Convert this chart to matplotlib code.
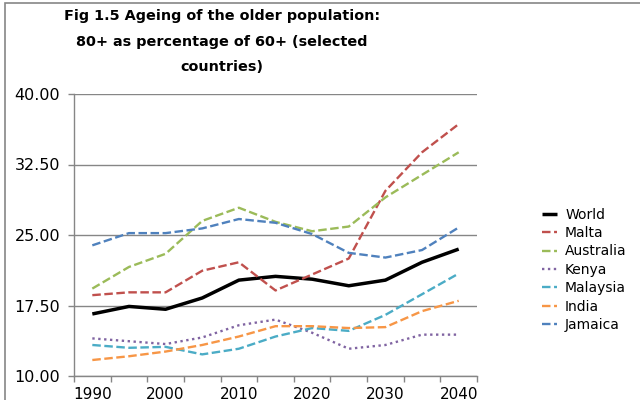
import matplotlib
matplotlib.use("Agg")
import matplotlib.pyplot as plt
from matplotlib.patches import Rectangle

years = [1990, 1995, 2000, 2005, 2010, 2015, 2020, 2025, 2030, 2035, 2040]
world = [16.6, 17.4, 17.1, 18.3, 20.2, 20.6, 20.3, 19.6, 20.2, 22.1, 23.5]
malta = [18.6, 18.9, 18.9, 21.2, 22.1, 19.1, 20.8, 22.5, 29.7, 33.8, 36.8]
australia = [19.3, 21.6, 23.0, 26.5, 27.9, 26.4, 25.4, 25.9, 29.0, 31.4, 33.8]
kenya = [14.0, 13.7, 13.4, 14.1, 15.4, 16.0, 14.6, 12.9, 13.3, 14.4, 14.4]
malaysia = [13.3, 13.0, 13.1, 12.3, 12.9, 14.2, 15.1, 14.8, 16.5, 18.7, 20.9]
india = [11.7, 12.1, 12.6, 13.3, 14.2, 15.3, 15.3, 15.1, 15.2, 16.9, 18.0]
jamaica = [23.9, 25.2, 25.2, 25.7, 26.7, 26.3, 25.1, 23.1, 22.6, 23.4, 25.8]

series = [
    ("World", world, "black", "-"),
    ("Malta", malta, "#C0504D", "--"),
    ("Australia", australia, "#9BBB59", "--"),
    ("Kenya", kenya, "#8064A2", ":"),
    ("Malaysia", malaysia, "#4BACC6", "--"),
    ("India", india, "#F79646", "--"),
    ("Jamaica", jamaica, "#4F81BD", "--"),
]

grid_c = "#868686"

fig = plt.figure(figsize=(6.4, 4.0), dpi=100)
ax = fig.add_axes([74 / 640, 1 - 376 / 400, 403 / 640, 282 / 400])

x = list(range(len(years)))
for name, vals, color, ls in series:
    if ls == "-":
        ax.plot(x, vals, color=color, lw=2.5, label=name, solid_capstyle="butt")
    elif ls == ":":
        ax.plot(x, vals, color=color, lw=1.7, label=name, dashes=(1, 1.5))
    else:
        ax.plot(x, vals, color=color, lw=1.7, label=name, dashes=(3.6, 1.5))

ax.set_xlim(-0.5, len(years) - 0.5)
ax.set_ylim(10, 40)
ax.set_yticks([10, 17.5, 25, 32.5, 40])
ax.set_yticklabels([f"{v:.2f}" for v in [10, 17.5, 25, 32.5, 40]])
ax.yaxis.grid(True, color=grid_c, lw=1.0)
ax.set_axisbelow(True)

ax.set_xticks([i - 0.5 for i in range(len(years) + 1)], minor=True)
ax.set_xticks(x[::2])
ax.set_xticklabels([str(y) for y in years[::2]])
ax.tick_params(axis="x", which="major", length=0, pad=8, labelsize=11)
ax.tick_params(axis="x", which="minor", length=4, color=grid_c, width=1.0)
ax.tick_params(axis="y", length=4, color=grid_c, width=1.0, pad=6, labelsize=11.5)

for s in ["top", "right"]:
    ax.spines[s].set_visible(False)
for s in ["left", "bottom"]:
    ax.spines[s].set_color(grid_c)
    ax.spines[s].set_linewidth(1.0)

fig.text(222 / 640, 1 - 9 / 400,
         "Fig 1.5 Ageing of the older population:\n80+ as percentage of 60+ (selected\ncountries)",
         ha="center", va="top", fontsize=10.4, fontweight="bold", linespacing=2.05)

fig.legend(loc="upper left", bbox_to_anchor=(529 / 640, 1 - 195 / 400),
           frameon=False, fontsize=10, handlelength=1.1, handletextpad=0.6,
           labelspacing=0.32)

fig.patches.append(Rectangle((5 / 640, -0.1), 1.2, 1.1 - 3 / 400,
                             transform=fig.transFigure, fill=False,
                             edgecolor=grid_c, lw=1.2))

fig.savefig("out.png", dpi=100)
